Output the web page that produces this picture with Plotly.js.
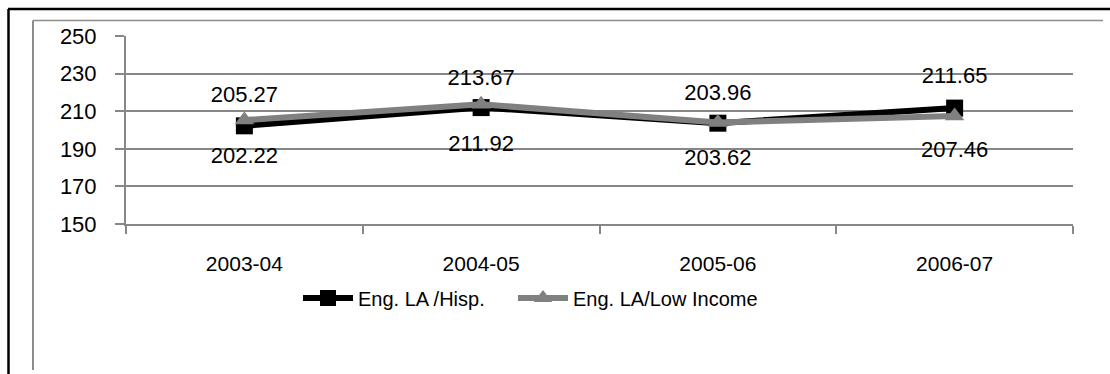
<!DOCTYPE html>
<html>
<head>
<meta charset="utf-8">
<script src="https://cdn.plot.ly/plotly-3.0.1.min.js"></script>
<style>
html,body{margin:0;padding:0;background:#fff;}
#chart{width:1110px;height:374px;}
</style>
</head>
<body>
<div id="chart"></div>
<script>
const categories = ["2003-04", "2004-05", "2005-06", "2006-07"];
const seriesNames = ["Eng. LA /Hisp.", "Eng. LA/Low Income"];
const hispValues = [202.22, 211.92, 203.62, 211.65];
const lowIncomeValues = [205.27, 213.67, 203.96, 207.46];
const yTickValues = [150, 170, 190, 210, 230, 250];

const FONT = "Liberation Sans, Arial, sans-serif";
const GRID = "#878787";

function lineTrace(name, values, color, symbol, legendId) {
  return {
    type: "scatter", mode: "lines+markers",
    name: name, x: categories, y: values,
    line: {color: color, width: 6},
    marker: {symbol: symbol, size: 17, color: color},
    legend: legendId, cliponaxis: false, hoverinfo: "skip"
  };
}
function labelTrace(values, positions, spacers) {
  return {
    type: "scatter", mode: "markers+text", showlegend: false,
    x: categories, y: values,
    text: values.map(v => v.toFixed(2)),
    textposition: positions,
    textfont: {family: FONT, size: 22, color: "#000"},
    marker: {size: spacers, color: "rgba(0,0,0,0)", opacity: 0, line: {width: 0, color: "rgba(0,0,0,0)"}},
    cliponaxis: false, hoverinfo: "skip"
  };
}

const traces = [
  lineTrace(seriesNames[0], hispValues, "#000000", "square", "legend"),
  lineTrace(seriesNames[1], lowIncomeValues, "#808080", "triangle-up", "legend2"),
  labelTrace(hispValues, ["bottom center", "bottom center", "bottom center", "top center"], [31, 41, 39, 30]),
  labelTrace(lowIncomeValues, ["top center", "top center", "top center", "bottom center"], [19, 20, 26, 38])
];

function px2x(p) { return (p - 126) / 947; }
function px2y(p) { return (224 - p) / 188; }

const legendBase = {
  orientation: "h", xanchor: "left", yanchor: "middle", y: px2y(298),
  font: {family: FONT, size: 20, color: "#000"},
  bgcolor: "rgba(0,0,0,0)", itemwidth: 50
};

const layout = {
  width: 1110, height: 374,
  margin: {l: 126, r: 37, t: 36, b: 150},
  paper_bgcolor: "#ffffff", plot_bgcolor: "#ffffff",
  font: {family: FONT, size: 22, color: "#000"},
  showlegend: true,
  legend: Object.assign({}, legendBase, {x: px2x(298)}),
  legend2: Object.assign({}, legendBase, {x: px2x(513)}),
  xaxis: {
    type: "category", range: [-0.5, 3.5],
    tickson: "boundaries", ticks: "outside", ticklen: 8, tickwidth: 2, tickcolor: GRID,
    showgrid: false, showline: true, linecolor: GRID, linewidth: 2,
    tickfont: {family: FONT, size: 21, color: "#000"},
    ticklabelstandoff: 20, zeroline: false, fixedrange: true
  },
  yaxis: {
    range: [150, 250], tickvals: yTickValues, ticktext: yTickValues.map(String),
    ticks: "outside", ticklen: 9, tickwidth: 2, tickcolor: GRID,
    showgrid: true, gridcolor: GRID, gridwidth: 2,
    showline: true, linecolor: GRID, linewidth: 2,
    tickfont: {family: FONT, size: 22, color: "#000"},
    ticklabelstandoff: 14, zeroline: false, fixedrange: true
  },
  shapes: [
    {type: "line", xref: "paper", yref: "paper", x0: px2x(8), x1: px2x(1115), y0: px2y(9), y1: px2y(9), line: {color: "#000", width: 2.5}},
    {type: "line", xref: "paper", yref: "paper", x0: px2x(8.5), x1: px2x(8.5), y0: px2y(9), y1: px2y(380), line: {color: "#000", width: 2.5}},
    {type: "line", xref: "paper", yref: "paper", x0: px2x(33), x1: px2x(1103), y0: px2y(20.5), y1: px2y(20.5), line: {color: "#8c8c8c", width: 1.5}},
    {type: "line", xref: "paper", yref: "paper", x0: px2x(33), x1: px2x(33), y0: px2y(20.5), y1: px2y(370), line: {color: "#8c8c8c", width: 2}}
  ]
};

Plotly.newPlot("chart", traces, layout, {displayModeBar: false, staticPlot: true});
</script>
</body>
</html>
